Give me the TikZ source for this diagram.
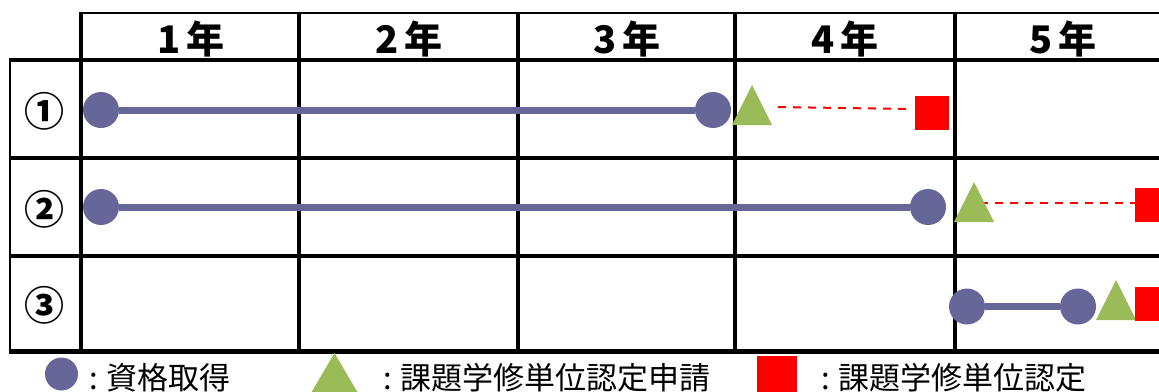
\documentclass[tikz,border=0pt]{standalone}
\usepackage{fontspec}
\setmainfont{Noto Sans CJK JP}
\usetikzlibrary{shapes.geometric}
\definecolor{qpurple}{RGB}{102,102,153}
\definecolor{qgreen}{RGB}{155,187,89}
\definecolor{qred}{RGB}{255,0,0}
\begin{document}
\begin{tikzpicture}[x=1pt,y=-1pt,
  gridline/.style={line width=#1},
  dot/.style={circle, fill=qpurple, minimum size=36pt, inner sep=0pt, outer sep=0pt},
  sq/.style={rectangle, fill=qred, minimum size=34pt, inner sep=0pt, outer sep=0pt},
  tri/.style={isosceles triangle, isosceles triangle stretches, shape border rotate=90,
    minimum width=40pt, minimum height=40pt, inner sep=0pt, outer sep=0pt, fill=qgreen, anchor=apex},
  bar/.style={draw=qpurple, line width=7pt},
  dashline/.style={draw=qred, line width=2pt, dash pattern=on 8pt off 7pt},
  hdr/.style={font=\bfseries\fontsize{38}{38}\selectfont, inner sep=0pt},
  rowlab/.style={font=\bfseries\fontsize{40}{40}\selectfont, inner sep=0pt},
  legtext/.style={font=\fontsize{31}{31}\selectfont, anchor=base west, inner sep=0pt},
]
\useasboundingbox (0,0) rectangle (1159,391);
\clip (0,0) rectangle (1159,391);
% grid
\draw[gridline=2.7pt] (81,13) -- (1165,13);
\draw[gridline=4.5pt] (10,60) -- (1165,60);
\draw[gridline=3.3pt] (10,158) -- (1165,158);
\draw[gridline=3.3pt] (10,256) -- (1165,256);
\draw[gridline=5pt] (8.8,351) -- (1165,351);
\draw[gridline=2.5pt] (10,58) -- (10,353);
\foreach \xx in {81,299,518,735,954.5} {
  \draw[gridline=4pt] (\xx,11.7) -- (\xx,353);
}
% headers
\node[hdr] (h1) at (191,39) {1\hspace{6pt}年};
\node[hdr] (h2) at (409,39) {2\hspace{6pt}年};
\node[hdr] (h3) at (627,39) {3\hspace{6pt}年};
\node[hdr] (h4) at (845,39) {4\hspace{6pt}年};
\node[hdr] (h5) at (1063,39) {5\hspace{6pt}年};
% row labels
\node[rowlab] (r1) at (44,111) {①};
\node[rowlab] (r2) at (44,209) {②};
\node[rowlab] (r3) at (44,305) {③};
% row 1
\node[dot] (c11) at (101,110) {};
\node[dot] (c12) at (713,110) {};
\draw[bar] (c11) -- (c12);
\node[tri] (t1) at (752,85) {};
\node[sq] (s1) at (932,113) {};
\coordinate (d1) at (778,107);
\draw[dashline] (d1) -- ([yshift=4pt,xshift=-8pt]s1.west);
% row 2
\node[dot] (c21) at (101,207) {};
\node[dot] (c22) at (928,207) {};
\draw[bar] (c21) -- (c22);
\node[sq] (s2) at (1152,205) {};
\coordinate (d2) at (980,203);
\draw[dashline] (d2) -- ([yshift=2pt]s2.west);
\node[tri] (t2) at (974,182) {};
% row 3
\node[dot] (c31) at (967,306.5) {};
\node[dot] (c32) at (1078,306.5) {};
\draw[bar] (c31) -- (c32);
\node[tri] (t3) at (1116,280) {};
\node[sq] (s3) at (1152,303.5) {};
% legend
\node[dot, minimum size=33pt] (l1) at (61.5,374) {};
\node[legtext] (lt1) at (89,389) {:\hspace{9pt}資格取得};
\fill[qgreen] (334.5,353) -- (358,393) -- (311,393) -- cycle;
\node[legtext] (lt2) at (383,389) {:\hspace{9pt}課題学修単位認定申請};
\node[sq, minimum size=40pt] (l3) at (777,376) {};
\node[legtext] (lt3) at (821,389) {:\hspace{9pt}課題学修単位認定};
\end{tikzpicture}
\end{document}
